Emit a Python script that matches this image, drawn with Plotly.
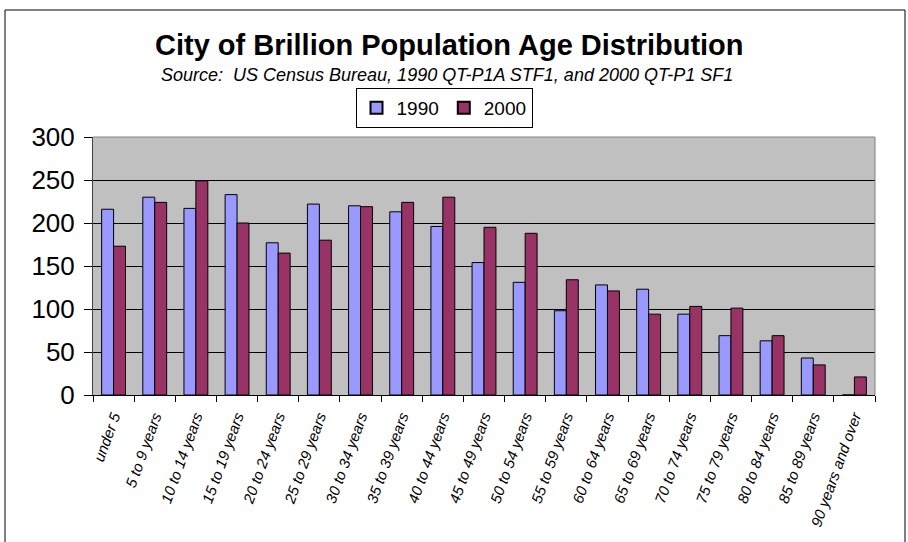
import plotly.graph_objects as go

# Age groups and population counts for the two census years
age_groups = [
    "under 5", "5 to 9 years", "10 to 14 years", "15 to 19 years",
    "20 to 24 years", "25 to 29 years", "30 to 34 years", "35 to 39 years",
    "40 to 44 years", "45 to 49 years", "50 to 54 years", "55 to 59 years",
    "60 to 64 years", "65 to 69 years", "70 to 74 years", "75 to 79 years",
    "80 to 84 years", "85 to 89 years", "90 years and over",
]
pop_1990 = [216, 230, 217, 233, 177, 222, 220, 213, 196, 154, 131, 98,
            128, 123, 94, 69, 63, 43, 0]
pop_2000 = [173, 224, 249, 200, 165, 180, 219, 224, 230, 195, 188, 134,
            121, 94, 103, 101, 69, 35, 21]
y_ticks = [0, 50, 100, 150, 200, 250, 300]

W, H = 908, 542
L, R, T, B = 93, 33, 137, 147
pw, ph = W - L - R, H - T - B


def px_x(p):
    return (p - L) / pw


def px_y(p):
    return (H - B - p) / ph


fig = go.Figure()
fig.add_trace(go.Bar(
    name="1990", x=age_groups, y=pop_1990,
    marker=dict(color="#9999FF", line=dict(color="#000000", width=1)),
))
fig.add_trace(go.Bar(
    name="2000", x=age_groups, y=pop_2000,
    marker=dict(color="#993366", line=dict(color="#000000", width=1)),
))

fig.update_layout(
    width=W, height=H,
    margin=dict(l=L, r=R, t=T, b=B),
    paper_bgcolor="white",
    plot_bgcolor="#C0C0C0",
    barmode="group",
    bargap=0.42,
    bargroupgap=0.0,
    font=dict(family="Liberation Sans, Arial, sans-serif", color="black"),
    showlegend=True,
    legend=dict(
        orientation="h",
        x=px_x(444), y=px_y(108), xanchor="center", yanchor="middle",
        bordercolor="black", borderwidth=1, bgcolor="white",
        font=dict(size=19, family="Liberation Sans, Arial, sans-serif"),
        itemsizing="constant", itemwidth=30,
        traceorder="normal",
    ),
    xaxis=dict(
        type="category",
        tickangle=-70,
        tickfont=dict(size=15, style="italic",
                      family="Liberation Sans Narrow, Liberation Sans, Arial"),
        ticks="outside", ticklen=6, tickcolor="black",
        tickson="boundaries",
        ticklabelstandoff=6,
        showline=True, linecolor="black", linewidth=1,
        showgrid=False,
    ),
    yaxis=dict(
        range=[0, 300],
        tickvals=y_ticks,
        tickfont=dict(size=26),
        ticks="outside", ticklen=8, tickcolor="black",
        ticklabelstandoff=4,
        showline=True, linecolor="#404040", linewidth=1,
        showgrid=True, gridcolor="black", gridwidth=1,
        zeroline=False,
    ),
    annotations=[
        dict(text="<b>City of Brillion Population Age Distribution</b>",
             xref="paper", yref="paper", x=px_x(449), y=px_y(45),
             xanchor="center", yanchor="middle", showarrow=False,
             font=dict(size=29, family="Liberation Sans, Arial")),
        dict(text="<i>Source:  US Census Bureau, 1990 QT-P1A STF1, and 2000 QT-P1 SF1</i>",
             xref="paper", yref="paper", x=px_x(447), y=px_y(75),
             xanchor="center", yanchor="middle", showarrow=False,
             font=dict(size=18, family="Liberation Sans, Arial")),
    ],
    shapes=[
        # outer chart frame
        dict(type="rect", xref="paper", yref="paper",
             x0=px_x(5), x1=px_x(905), y0=px_y(560), y1=px_y(10),
             line=dict(color="black", width=1), fillcolor="rgba(0,0,0,0)",
             layer="above"),
        # plot-area border (top and right)
        dict(type="line", xref="paper", yref="paper", x0=0, x1=1, y0=1, y1=1,
             line=dict(color="#808080", width=1)),
        dict(type="line", xref="paper", yref="paper", x0=1, x1=1, y0=0, y1=1,
             line=dict(color="#808080", width=1)),
    ],
)

fig.write_html("out.html")
